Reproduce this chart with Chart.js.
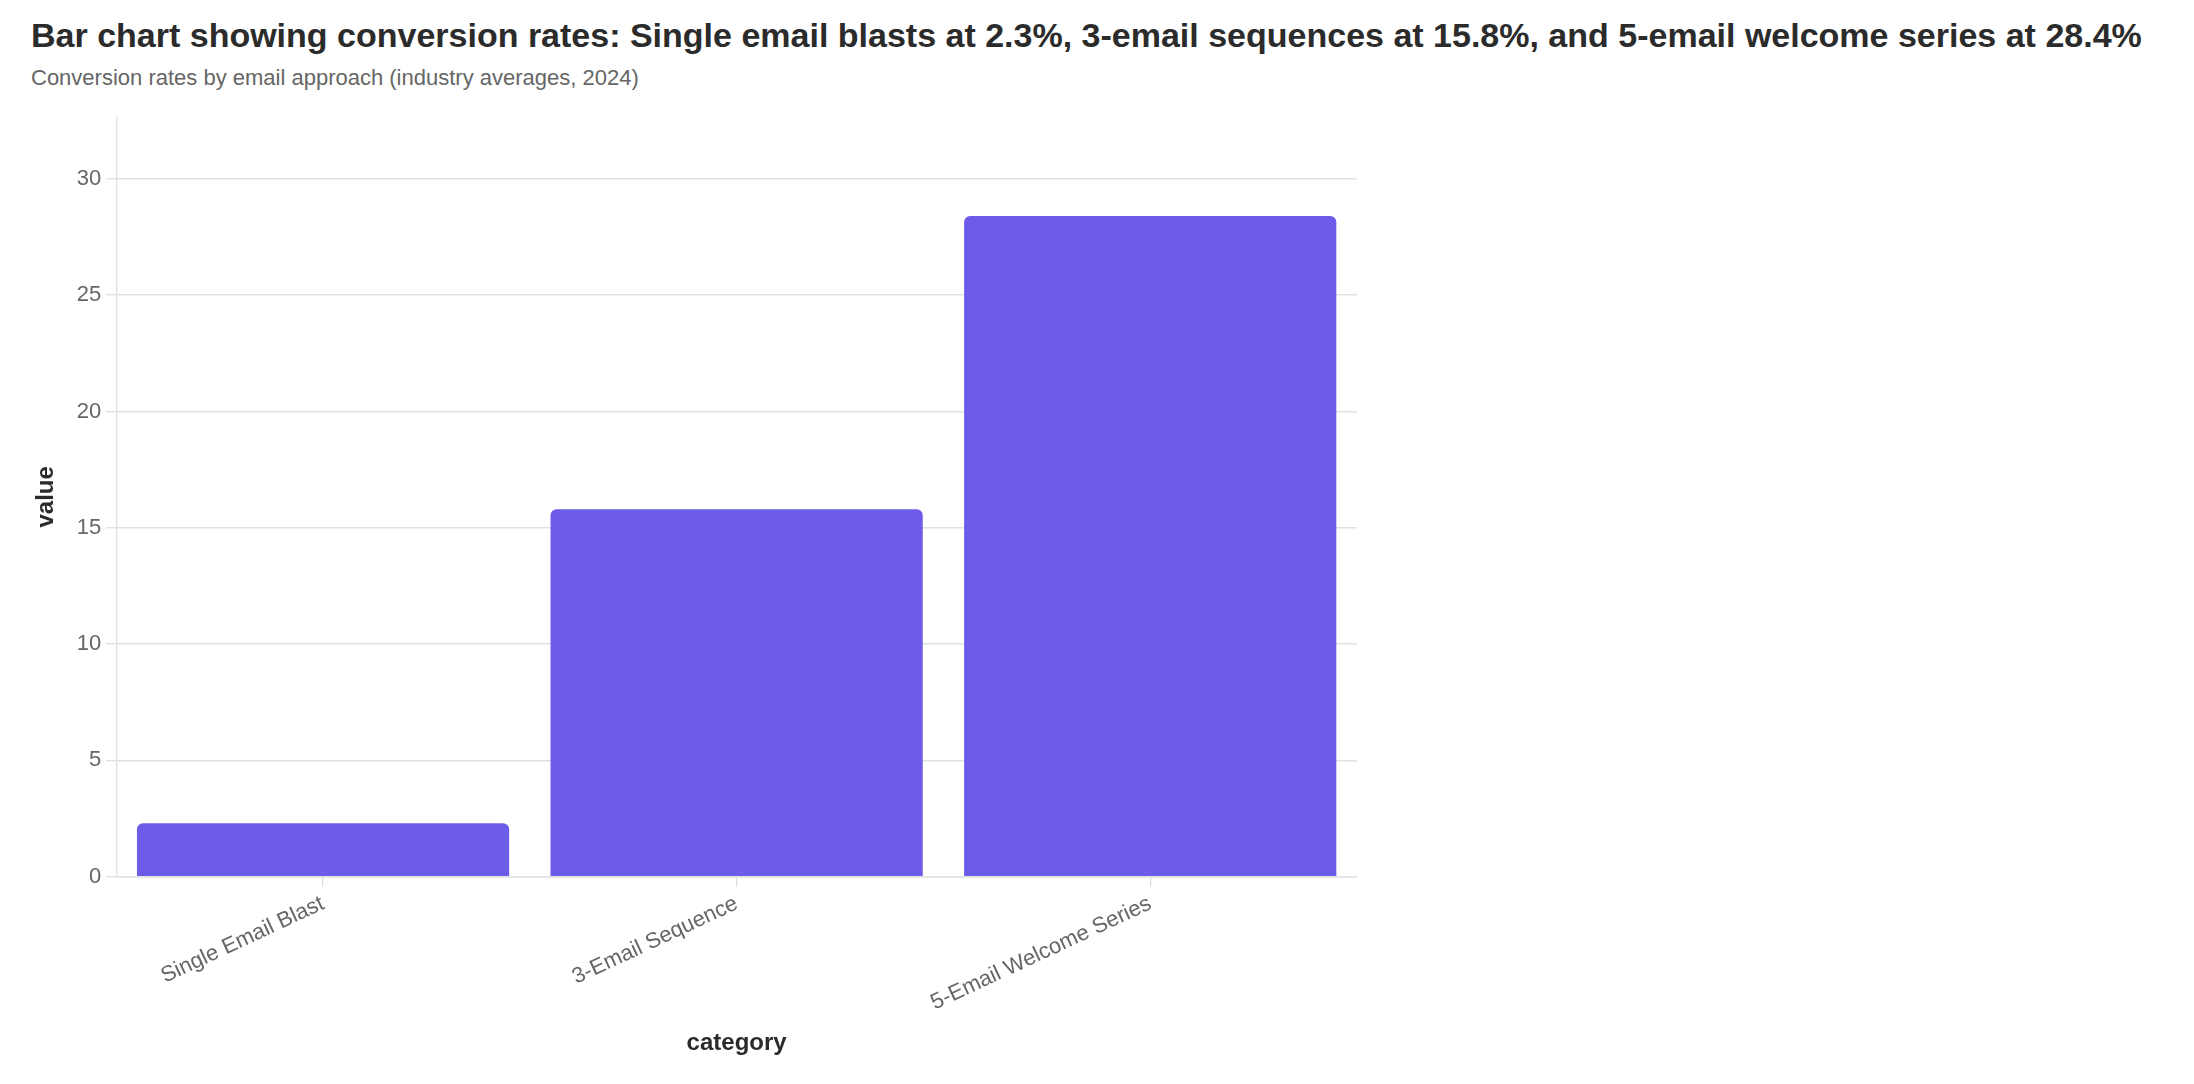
<!DOCTYPE html>
<html>
<head>
<meta charset="utf-8">
<script src="https://cdn.jsdelivr.net/npm/chart.js@4.4.1/dist/chart.umd.min.js"></script>
<style>
  html, body { margin: 0; padding: 0; background: #fff; }
  body { width: 2194px; height: 1084px; position: relative; overflow: hidden; font-family: "Liberation Sans", Arial, sans-serif; }
  h1 { position: absolute; left: 31px; top: 16px; margin: 0; font-size: 34px; font-weight: bold; color: #2b2b2b; white-space: nowrap; }
  .sub { position: absolute; left: 31px; top: 65px; margin: 0; font-size: 22px; color: #666; white-space: nowrap; }
  #wrap { position: absolute; left: 0; top: 0; width: 1380px; height: 1084px; }
</style>
</head>
<body>
<h1>Bar chart showing conversion rates: Single email blasts at 2.3%, 3-email sequences at 15.8%, and 5-email welcome series at 28.4%</h1>
<p class="sub">Conversion rates by email approach (industry averages, 2024)</p>
<div id="wrap"><canvas id="chart"></canvas></div>
<script>
const categories = ["Single Email Blast", "3-Email Sequence", "5-Email Welcome Series"];
const values = [2.3, 15.8, 28.4];
const yTicks = [0, 5, 10, 15, 20, 25, 30];

const gridColor = "#dfe2e2";
const tickColor = "#666";

new Chart(document.getElementById("chart"), {
  type: 'bar',
  data: {
    labels: categories,
    datasets: [
      {
        label: "value",
        backgroundColor: "#6c5ce7",
        borderRadius: 6,
        barPercentage: 0.9,
        categoryPercentage: 1.0,
        data: values
      }
    ]
  },
  options: {
    responsive: true,
    maintainAspectRatio: false,
    animation: false,
    layout: {
      padding: { top: 117, right: 23, bottom: 22, left: 28 }
    },
    plugins: {
      legend: { display: false },
      tooltip: { enabled: false }
    },
    scales: {
      x: {
        grid: {
          offset: false,
          drawOnChartArea: false,
          color: gridColor,
          lineWidth: 1.4,
          tickLength: 10
        },
        border: { color: gridColor, width: 1.4 },
        ticks: {
          color: tickColor,
          font: { family: "Liberation Sans", size: 22 },
          minRotation: 25,
          maxRotation: 25,
          padding: 4
        },
        title: {
          display: true,
          text: "category",
          color: "#2b2b2b",
          font: { family: "Liberation Sans", size: 24, weight: "bold" },
          padding: { top: 9, bottom: 4 }
        }
      },
      y: {
        min: 0,
        max: 32.66,
        afterBuildTicks: (axis) => { axis.ticks = yTicks.map(v => ({ value: v })); },
        grid: {
          color: gridColor,
          lineWidth: 1.4,
          tickLength: 10
        },
        border: { color: gridColor, width: 1.4 },
        ticks: {
          color: tickColor,
          font: { family: "Liberation Sans", size: 22 },
          padding: 5
        },
        title: {
          display: true,
          text: "value",
          color: "#2b2b2b",
          font: { family: "Liberation Sans", size: 24, weight: "bold" },
          padding: { top: 4, bottom: 11 }
        }
      }
    }
  }
});
</script>
</body>
</html>
